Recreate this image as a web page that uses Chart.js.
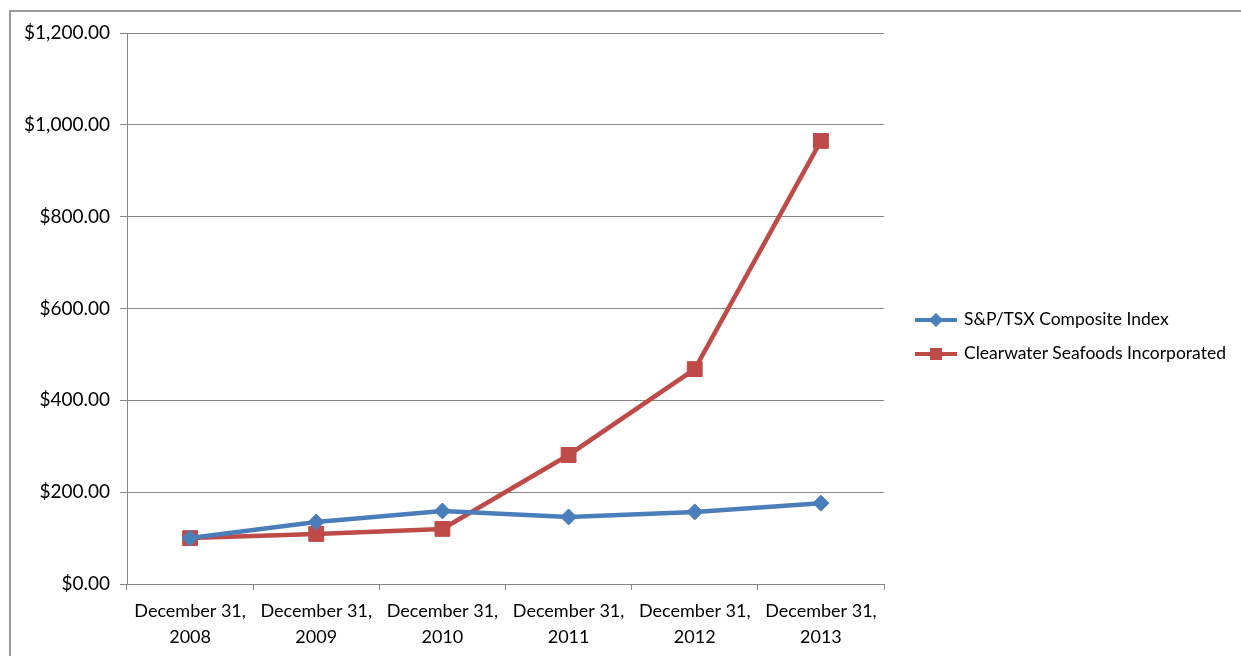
<!DOCTYPE html>
<html lang="en">
<head>
  <meta charset="UTF-8" />
  <title>S&amp;P/TSX vs Clearwater Seafoods</title>
  <script src="https://cdn.jsdelivr.net/npm/chart.js@4.4.1/dist/chart.umd.min.js"></script>
  <style>
    body { margin: 0; background: #fff; font-family: 'Lato', sans-serif; overflow: hidden; }
    #frame {
      position: absolute; left: 9px; top: 10px; width: 1240px; height: 650px;
      border-left: 2px solid #999; border-top: 2px solid #999;
    }
    #wrap { position: absolute; left: -1px; top: -1px; width: 1231px; height: 645px; }
    #legend { position: absolute; left: 904px; top: 296px; font-size: 17.5px; color: #000; }
    .item { position: relative; height: 34px; line-height: 22px; padding-left: 49px; white-space: nowrap; }
    .line { position: absolute; left: 0; top: 10px; width: 42px; height: 4px; }
    .mark { position: absolute; }
  </style>
</head>
<body>
  <div id="frame">
    <div id="wrap"><canvas id="myChart"></canvas></div>
    <div id="legend"></div>
  </div>

  <script>
    const categories = [
      ['December 31,', '2008'], ['December 31,', '2009'], ['December 31,', '2010'],
      ['December 31,', '2011'], ['December 31,', '2012'], ['December 31,', '2013']
    ];
    const tsxValues = [100, 135, 159, 146, 157, 176];
    const clearwaterValues = [100, 109, 120, 281, 468, 965];
    const seriesNames = ['S&P/TSX Composite Index', 'Clearwater Seafoods Incorporated'];
    const yTicks = [0, 200, 400, 600, 800, 1000, 1200];

    const blue = '#4a7ebb';
    const red = '#be4b48';
    const axisGray = '#868686';

    const ctx = document.getElementById('myChart').getContext('2d');
    const myChart = new Chart(ctx, {
      type: 'line',
      data: {
        labels: categories,
        datasets: [
          {
            label: seriesNames[0],
            data: tsxValues,
            borderColor: blue,
            backgroundColor: blue,
            borderWidth: 4.5,
            pointStyle: 'rectRot',
            pointRadius: 8,
            pointBorderWidth: 1,
            tension: 0
          },
          {
            label: seriesNames[1],
            data: clearwaterValues,
            borderColor: red,
            backgroundColor: red,
            borderWidth: 4.5,
            pointStyle: 'rect',
            pointRadius: 10.5,
            pointBorderWidth: 1,
            tension: 0
          }
        ]
      },
      options: {
        responsive: true,
        maintainAspectRatio: false,
        animation: false,
        layout: { padding: { top: 22, right: 357, bottom: 0, left: 0 } },
        plugins: { legend: { display: false }, tooltip: { enabled: false } },
        scales: {
          x: {
            offset: true,
            grid: { offset: true, drawOnChartArea: false, drawTicks: true, tickLength: 6, color: axisGray },
            border: { color: axisGray, width: 1 },
            ticks: {
              color: '#000', padding: 8, maxRotation: 0, autoSkip: false,
              font: { family: 'Lato', size: 18, lineHeight: 1.45 }
            },
            afterFit: s => { s.height = 72; }
          },
          y: {
            min: 0, max: 1200,
            afterBuildTicks: s => { s.ticks = yTicks.map(v => ({ value: v })); },
            grid: { color: axisGray, tickLength: 7 },
            border: { color: axisGray, width: 1 },
            ticks: {
              color: '#000', padding: 10,
              font: { family: 'Lato', size: 19 },
              callback: v => '$' + v.toLocaleString('en-US', { minimumFractionDigits: 2, maximumFractionDigits: 2 })
            },
            afterFit: s => { s.width = 117; }
          }
        }
      }
    });

    // legend in html
    const legend = document.getElementById('legend');
    myChart.data.datasets.forEach(ds => {
      const item = document.createElement('div');
      item.className = 'item';
      const line = document.createElement('span');
      line.className = 'line';
      line.style.background = ds.borderColor;
      const mark = document.createElement('span');
      mark.className = 'mark';
      mark.style.background = ds.borderColor;
      if (ds.pointStyle === 'rectRot') {
        mark.style.cssText += 'left:16px;top:7px;width:10px;height:10px;transform:rotate(45deg);';
      } else {
        mark.style.cssText += 'left:15px;top:6px;width:12px;height:12px;';
      }
      item.appendChild(line);
      item.appendChild(mark);
      item.appendChild(document.createTextNode(ds.label));
      legend.appendChild(item);
    });
  </script>
</body>
</html>
